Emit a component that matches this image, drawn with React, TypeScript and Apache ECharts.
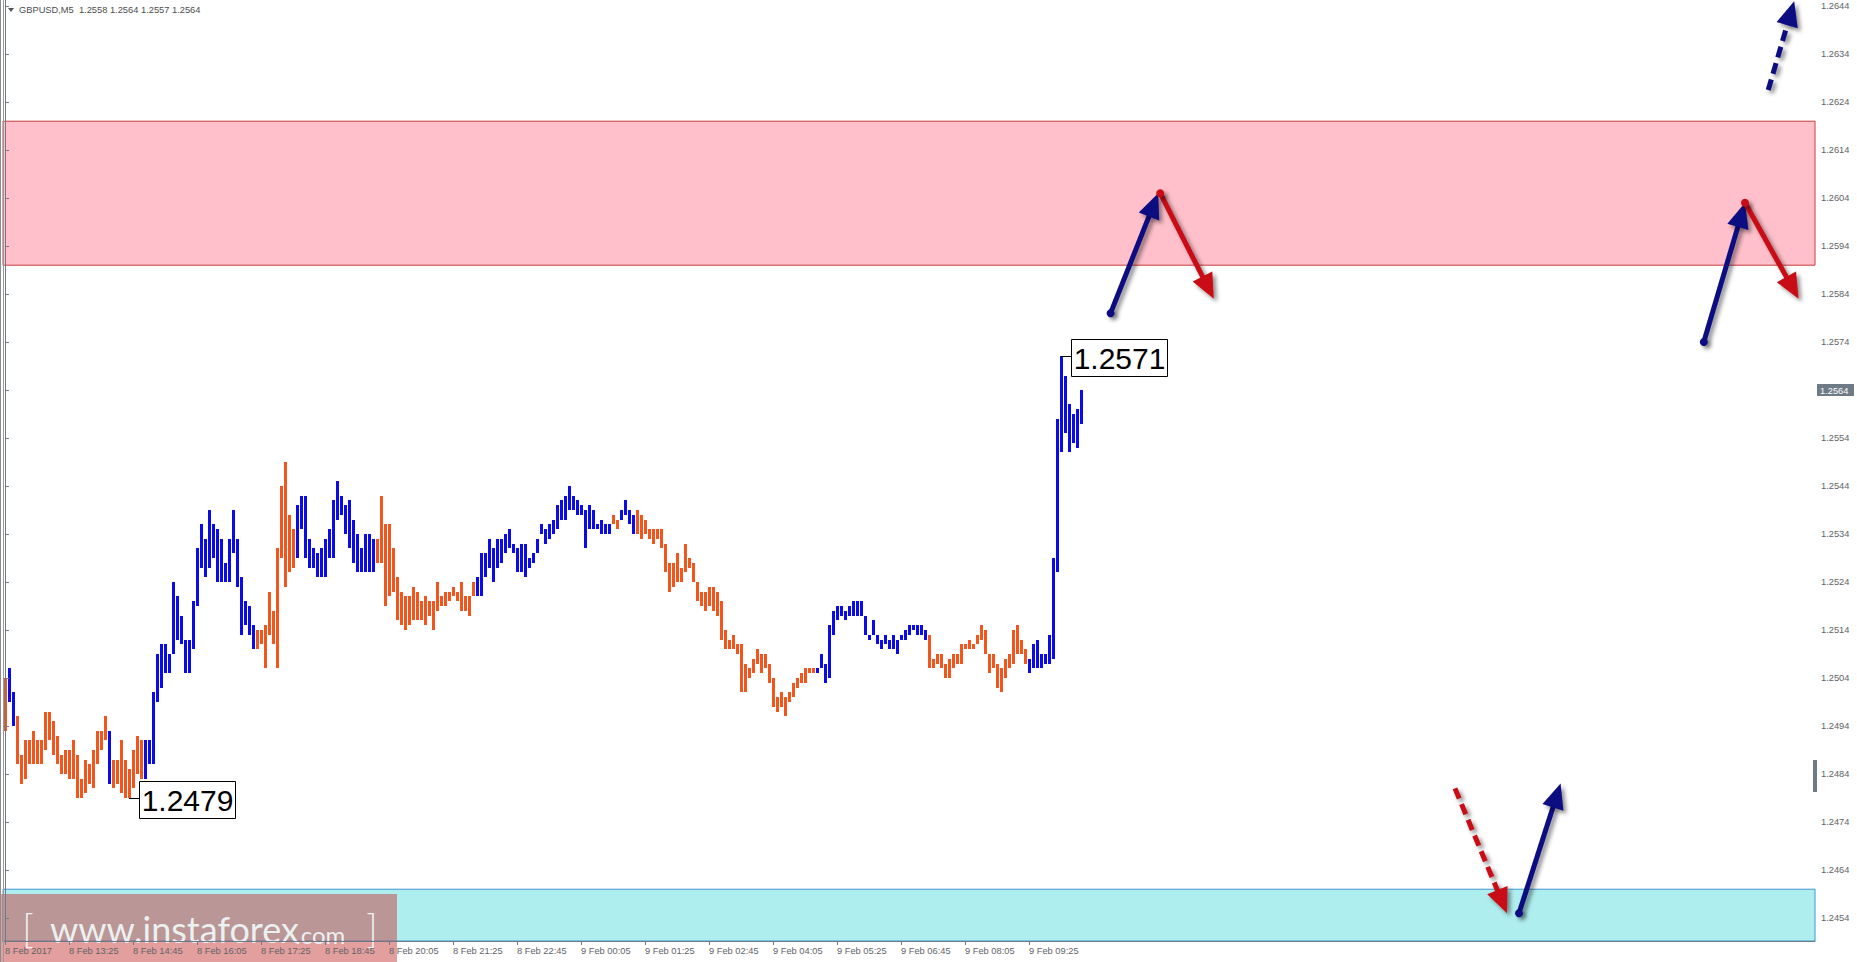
import { useEffect, useRef } from 'react';
import * as echarts from 'echarts';

// ---------- DATA ----------
const symbolName = 'GBPUSD,M5';
const headerOHLC = ['1.2558', '1.2564', '1.2557', '1.2564'];

const barHighs = [
  1.2504, 1.2506, 1.2501, 1.2496, 1.2488, 1.2491, 1.2491, 1.2493, 1.2491, 1.2491,
  1.2497, 1.2497, 1.2495, 1.2492, 1.2488, 1.2489, 1.2489, 1.2491, 1.2488, 1.2483,
  1.2487, 1.2486, 1.2489, 1.2493, 1.2493, 1.2496, 1.2493, 1.2487, 1.2487, 1.2491,
  1.2487, 1.2485, 1.2489, 1.2492, 1.2491, 1.2491, 1.2491, 1.2501, 1.2509, 1.2511,
  1.2511, 1.2509, 1.2524, 1.2521, 1.2517, 1.2512, 1.2512, 1.2520, 1.2531, 1.2536,
  1.2533, 1.2539, 1.2536, 1.2535, 1.2533, 1.2528, 1.2533, 1.2539, 1.2533, 1.2525,
  1.2520, 1.2519, 1.2515, 1.2514, 1.2514, 1.2515, 1.2522, 1.2518, 1.2531, 1.2544,
  1.2549, 1.2538, 1.2535, 1.2540, 1.2542, 1.2542, 1.2533, 1.2531, 1.2530, 1.2531,
  1.2533, 1.2535, 1.2541, 1.2545, 1.2542, 1.2540, 1.2541, 1.2537, 1.2534, 1.2531,
  1.2534, 1.2534, 1.2533, 1.2533, 1.2542, 1.2536, 1.2536, 1.2531, 1.2525, 1.2522,
  1.2521, 1.2521, 1.2523, 1.2522, 1.2520, 1.2521, 1.2520, 1.2520, 1.2524, 1.2521,
  1.2522, 1.2522, 1.2523, 1.2522, 1.2524, 1.2521, 1.2521, 1.2524, 1.2525, 1.2530,
  1.2530, 1.2533, 1.2531, 1.2533, 1.2533, 1.2534, 1.2535, 1.2532, 1.2531, 1.2532,
  1.2532, 1.2529, 1.2530, 1.2533, 1.2536, 1.2535, 1.2536, 1.2537, 1.2540, 1.2541,
  1.2542, 1.2544, 1.2542, 1.2541, 1.2540, 1.2539, 1.2540, 1.2539, 1.2536, 1.2537,
  1.2536, 1.2536, 1.2538, 1.2537, 1.2539, 1.2541, 1.2539, 1.2538, 1.2539, 1.2538,
  1.2537, 1.2535, 1.2535, 1.2535, 1.2535, 1.2532, 1.2528, 1.2528, 1.2530, 1.2527,
  1.2532, 1.2529, 1.2528, 1.2524, 1.2522, 1.2522, 1.2523, 1.2523, 1.2522, 1.2520,
  1.2514, 1.2512, 1.2513, 1.2511, 1.2511, 1.2507, 1.2506, 1.2508, 1.2510, 1.2509,
  1.2509, 1.2507, 1.2504, 1.2500, 1.2501, 1.2500, 1.2501, 1.2503, 1.2504, 1.2505,
  1.2506, 1.2506, 1.2506, 1.2506, 1.2509, 1.2507, 1.2515, 1.2518, 1.2519, 1.2519,
  1.2518, 1.2519, 1.2520, 1.2520, 1.2520, 1.2517, 1.2513, 1.2516, 1.2513, 1.2512,
  1.2513, 1.2512, 1.2513, 1.2512, 1.2513, 1.2514, 1.2515, 1.2515, 1.2515, 1.2515,
  1.2514, 1.2513, 1.2508, 1.2509, 1.2509, 1.2507, 1.2508, 1.2509, 1.2509, 1.2511,
  1.2511, 1.2512, 1.2511, 1.2513, 1.2515, 1.2514, 1.2509, 1.2509, 1.2507, 1.2506,
  1.2508, 1.2509, 1.2514, 1.2515, 1.2512, 1.2510, 1.2508, 1.2511, 1.2512, 1.2509,
  1.2509, 1.2513, 1.2529, 1.2558, 1.2571, 1.2567, 1.2561, 1.2559, 1.2560, 1.2564,
];

const barLows = [
  1.2493, 1.2499, 1.2494, 1.2486, 1.2482, 1.2483, 1.2486, 1.2486, 1.2486, 1.2486,
  1.2489, 1.2491, 1.2488, 1.2486, 1.2484, 1.2484, 1.2483, 1.2483, 1.2479, 1.2479,
  1.2480, 1.2482, 1.2481, 1.2486, 1.2489, 1.2491, 1.2482, 1.2481, 1.2482, 1.2480,
  1.2479, 1.2479, 1.2481, 1.2484, 1.2483, 1.2483, 1.2486, 1.2486, 1.2499, 1.2502,
  1.2505, 1.2505, 1.2509, 1.2512, 1.2511, 1.2505, 1.2505, 1.2510, 1.2519, 1.2527,
  1.2525, 1.2527, 1.2529, 1.2524, 1.2524, 1.2524, 1.2524, 1.2530, 1.2523, 1.2513,
  1.2515, 1.2513, 1.2510, 1.2510, 1.2511, 1.2506, 1.2513, 1.2511, 1.2506, 1.2529,
  1.2523, 1.2526, 1.2527, 1.2529, 1.2535, 1.2529, 1.2527, 1.2527, 1.2525, 1.2525,
  1.2525, 1.2529, 1.2529, 1.2537, 1.2538, 1.2534, 1.2531, 1.2528, 1.2526, 1.2526,
  1.2526, 1.2526, 1.2526, 1.2528, 1.2528, 1.2519, 1.2521, 1.2522, 1.2516, 1.2515,
  1.2514, 1.2515, 1.2516, 1.2516, 1.2516, 1.2515, 1.2517, 1.2514, 1.2518, 1.2519,
  1.2519, 1.2520, 1.2521, 1.2520, 1.2518, 1.2518, 1.2517, 1.2521, 1.2521, 1.2521,
  1.2525, 1.2527, 1.2524, 1.2527, 1.2528, 1.2530, 1.2531, 1.2530, 1.2526, 1.2526,
  1.2525, 1.2527, 1.2528, 1.2530, 1.2534, 1.2532, 1.2533, 1.2534, 1.2535, 1.2537,
  1.2537, 1.2539, 1.2539, 1.2538, 1.2538, 1.2531, 1.2535, 1.2535, 1.2535, 1.2534,
  1.2534, 1.2534, 1.2536, 1.2535, 1.2537, 1.2538, 1.2536, 1.2534, 1.2534, 1.2533,
  1.2534, 1.2533, 1.2532, 1.2533, 1.2531, 1.2526, 1.2522, 1.2523, 1.2524, 1.2524,
  1.2526, 1.2527, 1.2524, 1.2520, 1.2519, 1.2518, 1.2519, 1.2518, 1.2517, 1.2512,
  1.2510, 1.2510, 1.2510, 1.2509, 1.2501, 1.2501, 1.2504, 1.2505, 1.2507, 1.2505,
  1.2506, 1.2503, 1.2498, 1.2497, 1.2498, 1.2496, 1.2499, 1.2500, 1.2502, 1.2503,
  1.2503, 1.2505, 1.2505, 1.2505, 1.2506, 1.2503, 1.2504, 1.2513, 1.2516, 1.2517,
  1.2516, 1.2517, 1.2517, 1.2517, 1.2517, 1.2513, 1.2512, 1.2513, 1.2511, 1.2510,
  1.2511, 1.2510, 1.2510, 1.2509, 1.2512, 1.2512, 1.2513, 1.2514, 1.2513, 1.2513,
  1.2512, 1.2506, 1.2506, 1.2507, 1.2506, 1.2504, 1.2504, 1.2506, 1.2507, 1.2507,
  1.2510, 1.2510, 1.2510, 1.2511, 1.2512, 1.2509, 1.2505, 1.2506, 1.2502, 1.2501,
  1.2504, 1.2506, 1.2507, 1.2509, 1.2509, 1.2507, 1.2505, 1.2506, 1.2506, 1.2506,
  1.2507, 1.2507, 1.2508, 1.2526, 1.2551, 1.2555, 1.2551, 1.2553, 1.2552, 1.2557,
];

// wave direction segments: [direction, firstBar, lastBar]
const waveSegments: [string, number, number][] = [
  ['down', 0, 0], ['up', 1, 2], ['down', 3, 25], ['up', 26, 26], ['down', 27, 34],
  ['up', 35, 62], ['down', 63, 72], ['up', 73, 92], ['down', 93, 117], ['up', 118, 151],
  ['down', 152, 153], ['up', 154, 157], ['down', 158, 202], ['up', 203, 230],
  ['down', 231, 255], ['up', 256, 269],
];

const xTickLabels = [
  '8 Feb 2017', '8 Feb 13:25', '8 Feb 14:45', '8 Feb 16:05', '8 Feb 17:25', '8 Feb 18:45',
  '8 Feb 20:05', '8 Feb 21:25', '8 Feb 22:45', '9 Feb 00:05', '9 Feb 01:25', '9 Feb 02:45',
  '9 Feb 04:05', '9 Feb 05:25', '9 Feb 06:45', '9 Feb 08:05', '9 Feb 09:25',
];
const barsPerXTick = 16;

const yTickLabels = [
  '1.2454', '1.2464', '1.2474', '1.2484', '1.2494', '1.2504', '1.2514', '1.2524', '1.2534', '1.2544',
  '1.2554', '1.2564', '1.2574', '1.2584', '1.2594', '1.2604', '1.2614', '1.2624', '1.2634', '1.2644',
];

const resistanceZone = [1.2620, 1.2590];
const supportZone = [1.2460, 1.2449];
const lastPrice = 1.2564;

const calloutBars = [31, 264];
const calloutPrices = [1.2479, 1.2571];

// forecast arrows: [barIndexFrom, priceFrom, barIndexTo, priceTo]
const arrowPaths = [
  [276.4, 1.2580, 288.3, 1.2605],
  [288.8, 1.2605, 302.2, 1.2583],
  [424.7, 1.2574, 435.0, 1.2603],
  [435.0, 1.2603, 448.4, 1.2583],
  [440.8, 1.26265, 447.3, 1.2645],
  [362.5, 1.2481, 375.5, 1.2455],
  [378.5, 1.2455, 388.9, 1.2482],
];
const arrowKinds = ['up', 'down', 'up', 'down', 'upDashed', 'downDashed', 'up'];

// ---------- STYLE ----------
const W = 1857;
const H = 962;
const Y_MIN = 1.244921;
const Y_MAX = 1.264525;
const X_MIN = -0.5;
const X_MAX = 452.5;
const AXIS_COLOR = '#6f7b87';
const LABEL_COLOR = '#606468';
const BLUE = '#0b0bea';
const ORANGE = '#f2561d';
const NAVY = '#0a0a82';
const RED = '#c80a14';
const FONT = '"Liberation Sans", Arial, sans-serif';
const WM_FONT = 'Lato, "Open Sans", sans-serif';
const WM_COLOR = 'rgba(240,250,250,0.92)';

function dirOf(i: number): string {
  for (const s of waveSegments) if (i >= s[1] && i <= s[2]) return s[0];
  return 'up';
}

export default function App() {
  const ref = useRef<HTMLDivElement>(null);

  useEffect(() => {
    document.body.style.margin = '0';
    if (!ref.current) return;
    const chart = echarts.init(ref.current, undefined, { renderer: 'svg' });

    const barData = barHighs.map((h, i) => [i, h, barLows[i], dirOf(i) === 'up' ? 1 : 0]);
    const xTickValues = xTickLabels.map((_, k) => k * barsPerXTick);
    const yTickValues = yTickLabels.map(Number);

    const shadow = {
      shadowBlur: 4,
      shadowOffsetX: 3,
      shadowOffsetY: 3,
      shadowColor: 'rgba(0,0,0,0.45)',
    };

    const option: any = {
      animation: false,
      backgroundColor: '#ffffff',
      grid: { left: 3, right: W - 1815, top: 0, bottom: H - 941, containLabel: false, outerBoundsMode: 'none' },
      xAxis: {
        type: 'value',
        min: X_MIN,
        max: X_MAX,
        z: 10,
        axisLine: { show: true, onZero: false, lineStyle: { color: AXIS_COLOR, width: 1 } },
        axisTick: { show: true, length: 4, customValues: xTickValues, lineStyle: { color: AXIS_COLOR } },
        axisLabel: {
          customValues: xTickValues,
          formatter: (v: number) => xTickLabels[Math.round(v / barsPerXTick)] ?? '',
          align: 'left',
          margin: 5,
          color: LABEL_COLOR,
          fontSize: 9.3,
          fontFamily: FONT,
        },
        splitLine: { show: false },
      },
      yAxis: {
        type: 'value',
        position: 'right',
        min: Y_MIN,
        max: Y_MAX,
        z: 10,
        axisLine: { show: true, lineStyle: { color: AXIS_COLOR, width: 1 } },
        axisTick: { show: true, length: 4, customValues: yTickValues, lineStyle: { color: AXIS_COLOR } },
        axisLabel: {
          customValues: yTickValues,
          formatter: (v: number) => v.toFixed(4),
          margin: 6,
          color: LABEL_COLOR,
          fontSize: 9.3,
          fontFamily: FONT,
        },
        splitLine: { show: false },
      },
      graphic: [
        { type: 'line', z: 20, shape: { x1: 0.5, y1: 0, x2: 0.5, y2: H }, style: { stroke: '#8c8c8c', lineWidth: 1 } },
        { type: 'line', z: 20, shape: { x1: 3.5, y1: 0, x2: 3.5, y2: H }, style: { stroke: '#9a9a9a', lineWidth: 1 } },
        { type: 'polygon', z: 20, shape: { points: [[8, 8], [14, 8], [11, 12]] }, style: { fill: '#555' } },
        {
          type: 'text', z: 20, x: 19, y: 10,
          style: {
            text: symbolName + '  ' + headerOHLC.join(' '),
            fill: '#4c4c4c', font: '9.3px ' + FONT,
            verticalAlign: 'middle', textVerticalAlign: 'middle',
          },
        },
        { type: 'rect', z: 20, shape: { x: 1813, y: 760, width: 4, height: 32 }, style: { fill: AXIS_COLOR } },
        // watermark
        { type: 'rect', z: 5, shape: { x: 0, y: 894, width: 397, height: H - 894 }, style: { fill: 'rgba(200,62,62,0.5)' } },
        { type: 'text', z: 6, x: 22, y: 928, style: { text: '[', fill: WM_COLOR, font: '300 40px ' + WM_FONT, verticalAlign: 'middle', textVerticalAlign: 'middle' } },
        { type: 'text', z: 6, x: 50, y: 929, style: { text: 'www.instaforex', fill: WM_COLOR, font: '36px ' + WM_FONT, verticalAlign: 'middle', textVerticalAlign: 'middle' } },
        { type: 'text', z: 6, x: 295, y: 934, style: { text: '.com', fill: WM_COLOR, font: '24px ' + WM_FONT, verticalAlign: 'middle', textVerticalAlign: 'middle' } },
        { type: 'text', z: 6, x: 366, y: 928, style: { text: ']', fill: WM_COLOR, font: '300 40px ' + WM_FONT, verticalAlign: 'middle', textVerticalAlign: 'middle' } },
      ],
      series: [
        {
          type: 'line',
          name: 'zones',
          z: 1,
          silent: true,
          data: [],
          markArea: {
            silent: true,
            data: [
              [
                { yAxis: resistanceZone[0], itemStyle: { color: '#ffc0cb', borderColor: '#c83c3c', borderWidth: 1 } },
                { yAxis: resistanceZone[1] },
              ],
              [
                { yAxis: supportZone[0], itemStyle: { color: '#afeeee', borderColor: '#3a98d2', borderWidth: 1 } },
                { yAxis: supportZone[1] },
              ],
            ],
          },
        },
        {
          type: 'custom',
          name: 'bars',
          z: 3,
          silent: true,
          clip: false,
          data: barData,
          renderItem: (_params: any, api: any) => {
            const i = api.value(0);
            const hi = api.coord([i, api.value(1)]);
            const lo = api.coord([i, api.value(2)]);
            const x = Math.round(hi[0] - 1.5);
            const y1 = Math.round(hi[1]);
            const y2 = Math.round(lo[1]);
            return {
              type: 'rect',
              shape: { x, y: y1, width: 3, height: Math.max(y2 - y1, 2) },
              style: { fill: api.value(3) ? BLUE : ORANGE },
            };
          },
        },
        {
          type: 'custom',
          name: 'lastPrice',
          z: 12,
          silent: true,
          clip: false,
          data: [[X_MAX, lastPrice]],
          renderItem: (_params: any, api: any) => {
            const p = api.coord([api.value(0), api.value(1)]);
            const y = Math.round(p[1]);
            return {
              type: 'group',
              children: [
                { type: 'rect', shape: { x: p[0] + 2, y: y - 6, width: 37, height: 12 }, style: { fill: '#6e7a86' } },
                {
                  type: 'text', x: p[0] + 5, y: y + 0.5,
                  style: {
                    text: lastPrice.toFixed(4), fill: '#ffffff', font: '9.3px ' + FONT,
                    verticalAlign: 'middle', textVerticalAlign: 'middle',
                  },
                },
              ],
            };
          },
        },
        {
          type: 'custom',
          name: 'callouts',
          z: 4,
          silent: true,
          clip: false,
          data: calloutBars.map((b, k) => [b, calloutPrices[k]]),
          renderItem: (params: any, api: any) => {
            const p = api.coord([api.value(0), api.value(1)]);
            const py = Math.round(p[1]) + 0.5;
            const bx = Math.round(p[0]) + 10.5;
            const txt = calloutPrices[params.dataIndex].toFixed(4);
            return {
              type: 'group',
              children: [
                { type: 'line', shape: { x1: p[0], y1: py, x2: bx, y2: py }, style: { stroke: '#000', lineWidth: 1 } },
                { type: 'rect', shape: { x: bx, y: py - 17, width: 96, height: 37 }, style: { fill: '#fff', stroke: '#000', lineWidth: 1 } },
                {
                  type: 'text', x: bx + 48, y: py + 2,
                  style: {
                    text: txt, fill: '#000', font: '30px ' + FONT,
                    align: 'center', textAlign: 'center', verticalAlign: 'middle', textVerticalAlign: 'middle',
                  },
                },
              ],
            };
          },
        },
        {
          type: 'custom',
          name: 'arrows',
          z: 6,
          silent: true,
          clip: false,
          data: arrowPaths,
          renderItem: (params: any, api: any) => {
            const a = api.coord([api.value(0), api.value(1)]);
            const b = api.coord([api.value(2), api.value(3)]);
            const kind = arrowKinds[params.dataIndex];
            const color = kind.startsWith('up') ? NAVY : RED;
            const dashed = kind.endsWith('Dashed');
            const dx = b[0] - a[0];
            const dy = b[1] - a[1];
            const len = Math.hypot(dx, dy);
            const ux = dx / len;
            const uy = dy / len;
            const HL = 25;
            const HW = 11;
            const bx = b[0] - ux * HL;
            const by = b[1] - uy * HL;
            const px = -uy;
            const py = ux;
            const children: any[] = [
              {
                type: 'line',
                shape: { x1: a[0], y1: a[1], x2: bx + ux * 3, y2: by + uy * 3 },
                style: { stroke: color, lineWidth: 5, lineDash: dashed ? [11, 6] : null, ...shadow },
              },
              {
                type: 'polygon',
                shape: { points: [[b[0], b[1]], [bx + px * HW, by + py * HW], [bx - px * HW, by - py * HW]] },
                style: { fill: color, ...shadow },
              },
            ];
            if (!dashed) {
              children.push({ type: 'circle', shape: { cx: a[0], cy: a[1], r: 4 }, style: { fill: color, ...shadow } });
            }
            return { type: 'group', children };
          },
        },
      ],
    };

    chart.setOption(option);
    return () => chart.dispose();
  }, []);

  return <div ref={ref} style={{ width: W, height: H }} />;
}
